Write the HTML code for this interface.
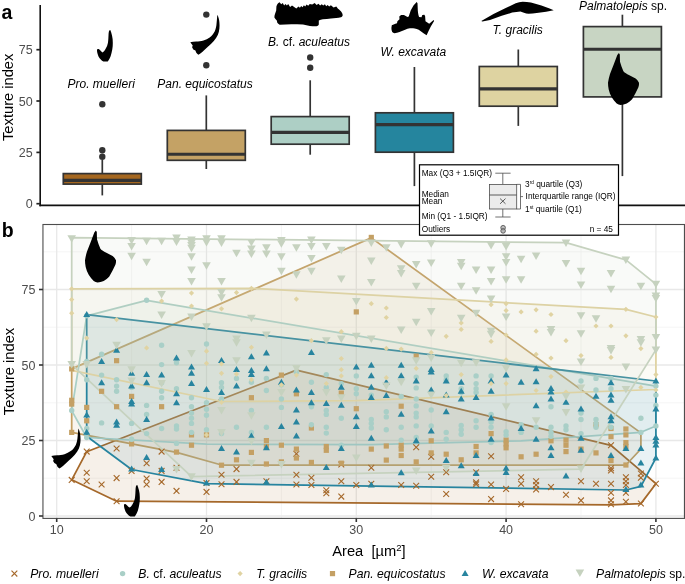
<!DOCTYPE html>
<html lang="en"><head><meta charset="utf-8"><title>Texture index figure</title>
<style>
html,body{margin:0;padding:0;background:#fff;}
body{width:685px;height:584px;overflow:hidden;}
svg{display:block;font-family:"Liberation Sans", Arial, Helvetica, sans-serif;}
.tick{font-size:12.5px;fill:#4d4d4d;}
.ttl{font-size:14.7px;fill:#000;}
.sp{font-size:12px;fill:#000;font-style:italic;}
.sl{font-size:12.2px;fill:#000;font-style:italic;}
.lg{font-size:8.3px;fill:#000;}
.pl{font-size:19.5px;font-weight:bold;fill:#000;}
</style></head><body>
<svg width="685" height="584" viewBox="0 0 685 584">
<rect width="685" height="584" fill="#fff"/>

<g id="panelA">
<line x1="102.3" y1="160.0" x2="102.3" y2="173.6" stroke="#333" stroke-width="1.7"/>
<line x1="102.3" y1="184.1" x2="102.3" y2="195.4" stroke="#333" stroke-width="1.7"/>
<rect x="63.3" y="173.6" width="78.0" height="10.5" fill="#a5671f" stroke="#333" stroke-width="1.7"/>
<line x1="63.3" y1="180.4" x2="141.3" y2="180.4" stroke="#333" stroke-width="3.1"/>
<circle cx="102.3" cy="156.7" r="3.2" fill="#333"/>
<circle cx="102.3" cy="150.2" r="3.2" fill="#333"/>
<circle cx="102.3" cy="104.3" r="3.2" fill="#333"/>
<line x1="206.3" y1="95.4" x2="206.3" y2="130.4" stroke="#333" stroke-width="1.7"/>
<line x1="206.3" y1="160.3" x2="206.3" y2="169.0" stroke="#333" stroke-width="1.7"/>
<rect x="167.3" y="130.4" width="78.0" height="29.9" fill="#c4a265" stroke="#333" stroke-width="1.7"/>
<line x1="167.3" y1="154.2" x2="245.3" y2="154.2" stroke="#333" stroke-width="3.1"/>
<circle cx="206.3" cy="14.6" r="3.2" fill="#333"/>
<circle cx="206.3" cy="65.3" r="3.2" fill="#333"/>
<line x1="310.2" y1="80.3" x2="310.2" y2="116.6" stroke="#333" stroke-width="1.7"/>
<line x1="310.2" y1="144.2" x2="310.2" y2="154.7" stroke="#333" stroke-width="1.7"/>
<rect x="271.2" y="116.6" width="78.0" height="27.6" fill="#adcfc5" stroke="#333" stroke-width="1.7"/>
<line x1="271.2" y1="132.4" x2="349.2" y2="132.4" stroke="#333" stroke-width="3.1"/>
<circle cx="310.2" cy="57.5" r="3.2" fill="#333"/>
<circle cx="310.2" cy="67.8" r="3.2" fill="#333"/>
<line x1="414.4" y1="67.0" x2="414.4" y2="112.8" stroke="#333" stroke-width="1.7"/>
<line x1="414.4" y1="152.2" x2="414.4" y2="186.1" stroke="#333" stroke-width="1.7"/>
<rect x="375.4" y="112.8" width="78.0" height="39.4" fill="#25859e" stroke="#333" stroke-width="1.7"/>
<line x1="375.4" y1="124.6" x2="453.4" y2="124.6" stroke="#333" stroke-width="3.1"/>
<line x1="518.3" y1="49.5" x2="518.3" y2="66.5" stroke="#333" stroke-width="1.7"/>
<line x1="518.3" y1="106.2" x2="518.3" y2="125.9" stroke="#333" stroke-width="1.7"/>
<rect x="479.3" y="66.5" width="78.0" height="39.7" fill="#ded3a1" stroke="#333" stroke-width="1.7"/>
<line x1="479.3" y1="88.9" x2="557.3" y2="88.9" stroke="#333" stroke-width="3.1"/>
<line x1="622.4" y1="14.7" x2="622.4" y2="26.6" stroke="#333" stroke-width="1.7"/>
<line x1="622.4" y1="96.9" x2="622.4" y2="176.1" stroke="#333" stroke-width="1.7"/>
<rect x="583.4" y="26.6" width="78.0" height="70.3" fill="#c8d5c3" stroke="#333" stroke-width="1.7"/>
<line x1="583.4" y1="49.2" x2="661.4" y2="49.2" stroke="#333" stroke-width="3.1"/>
<line x1="40.2" y1="5" x2="40.2" y2="206.2" stroke="#111" stroke-width="1.6"/>
<line x1="39.4" y1="205.4" x2="685" y2="205.4" stroke="#111" stroke-width="1.6"/>
<line x1="36.4" y1="203.7" x2="40" y2="203.7" stroke="#222" stroke-width="1.7"/>
<text class="tick" x="32.7" y="208.3" text-anchor="end">0</text>
<line x1="36.4" y1="152.4" x2="40" y2="152.4" stroke="#222" stroke-width="1.7"/>
<text class="tick" x="32.7" y="157.0" text-anchor="end">25</text>
<line x1="36.4" y1="101.0" x2="40" y2="101.0" stroke="#222" stroke-width="1.7"/>
<text class="tick" x="32.7" y="105.6" text-anchor="end">50</text>
<line x1="36.4" y1="49.7" x2="40" y2="49.7" stroke="#222" stroke-width="1.7"/>
<text class="tick" x="32.7" y="54.3" text-anchor="end">75</text>
<text class="ttl" transform="translate(12.6,97.3) rotate(-90)" text-anchor="middle">Texture index</text>
<text class="pl" x="1.5" y="18.9">a</text>
<text class="sp" x="101.2" y="87.9" text-anchor="middle"><tspan>Pro. muelleri</tspan></text>
<text class="sp" x="205" y="87.9" text-anchor="middle"><tspan>Pan. equicostatus</tspan></text>
<text class="sp" x="309" y="46" text-anchor="middle"><tspan>B.</tspan><tspan font-style="normal"> cf. </tspan><tspan>aculeatus</tspan></text>
<text class="sp" x="413.4" y="56.3" text-anchor="middle"><tspan>W. excavata</tspan></text>
<text class="sp" x="517.7" y="34.4" text-anchor="middle"><tspan>T. gracilis</tspan></text>
<text class="sp" x="623.0" y="10.2" text-anchor="middle"><tspan>Palmatolepis</tspan><tspan font-style="normal"> sp.</tspan></text>
<path d="M110.3,30 C111.5,33 113,38 112.8,43 C112.9,47 112,52 110.7,56 C109.8,58.5 108.7,60.5 107.7,61.5 L103.4,61.5 C101.5,60.5 100,59 98.5,56.5 C97.5,54 96.8,51 97,49.5 C97.5,48.7 98.2,48.8 98.7,49.1 C100,50 101.3,52 102.6,52.4 C103.8,51.8 104.8,50.5 105.5,49.1 C106.8,47 107.6,45 107.9,43.1 C108.4,40 108.4,37 108.5,35.4 C108.6,33 108.8,31.5 109.3,30.5 Z" fill="#000"/>
<path d="M217.4,14.8 C218.5,17 219.3,20 219.4,22.5 C219.6,24.5 219.6,26.5 219.4,28.6 C219.2,31 218.7,33 217.9,34.8 C216.8,37 215.5,39 213.8,41 C212,43 210,45 207.6,47.1 L202,52.3 C200.5,53.5 199.5,54.3 198.4,54.8 C197.5,54.3 196.8,53.6 196.3,52.8 L195.4,50.6 L193.3,49.4 L192.1,47.3 L192.7,45.6 L190.3,42.3 C192,42 194,41.7 196.3,41.5 C198.5,41.4 201,41.2 203.5,40.5 C205.8,39.8 207.8,38.8 209.7,37.4 C211.8,35.8 213.5,33.7 214.8,31.2 C215.9,28.8 216.4,26 216.6,23 C216.8,21 217,19 217.1,17.3 Z" fill="#000"/>
<path d="M279.6,2.2 L281.2,4.3 L282.8,3.0 L284.1,5.4 L285.5,4.1 L286.9,5.4 L288.2,4.1 L290.1,6.9 L292.0,5.6 L296.3,8.6 L298.5,6.5 L299.9,7.8 L301.2,5.9 L302.5,7.2 L303.9,5.2 L305.2,6.5 L306.6,4.5 L308.2,5.8 L309.8,4.1 L312.2,4.6 L314.7,3.0 L316.6,5.1 L318.5,3.8 L320.1,5.6 L321.7,4.3 L323.3,5.6 L324.9,4.3 L326.2,6.2 L327.6,4.9 L329.2,6.5 L330.9,5.2 L333.6,7.4 L336.3,6.4 L338,8.8 C339.5,10 340.8,11 341.6,12.3 C342.3,13.3 342.7,14.3 342.7,15.2 C342.5,16.3 341.8,17 341,17.3 C338,17.9 334.5,18.2 331,18.5 C328,18.8 325.5,19 322.9,19.3 C321.3,19.6 320,20 318.8,20.4 L318.8,24.5 C318.3,25.5 317.5,26 316.5,26.3 C314.5,26.4 312,26.2 310,25.9 C307.5,25.4 305.3,24.9 303,24.5 C299,24.3 295,24.3 291.4,24.3 C287.5,24.5 283.5,24.8 279.7,24.8 C278.6,24.3 277.8,23.6 277.3,22.8 L276.8,20.4 C275.8,19.5 274.9,18.5 274.4,17.5 C274.3,16.3 274.6,15 275,14 L276.2,10.5 L276.4,6.4 C276.9,4.8 277.8,3.2 279.6,2.2 Z" fill="#000"/>
<path d="M416.7,2 L417.5,3.2 L417.8,10.4 C418,13 418.5,15.3 419.1,16.9 L421.5,17.3 L422.3,14.9 L424.3,14.7 L425.1,16.1 L425.5,21.3 L429.2,23.7 L433.6,20.1 L434.1,21 L430.8,26.5 L428.8,30.5 L426.6,35.3 L423.5,33.3 C422,32 420.3,30.6 418.7,29.7 C417.4,29.1 416,28.7 414.7,28.5 C413,28.2 411.5,28.1 409.9,28.3 C408.2,28.6 406.7,29.1 405.1,29.7 L399.5,32.1 C397.8,32.7 396.2,33.2 394.6,33.3 C393.6,33.2 392.7,32.8 392.2,32.1 C391.6,30.8 391.4,29.4 391.4,28.1 L391.8,25.3 L395.4,23.7 L397,23.3 L397.4,21.3 L399.5,19.3 L399.3,16.5 L401.1,14.9 L403.9,14.9 L407.5,17 L408.7,16.5 L410.7,10.4 L413.5,5.6 Z" fill="#000"/>
<path d="M481.3,21 L493.5,14 L505.2,8.2 L515.7,3.3 C518,2.3 520.3,1.8 522.7,1.8 C525.5,1.8 528.2,2.1 530.9,2.6 C534.5,3.4 538,4.5 541.4,5.6 L549.6,8.4 L553.7,10.3 C551.3,10.9 548.7,11.3 546.1,11.7 L536.7,13.1 C534,13.5 531.3,13.8 528.6,13.8 C527,13.7 525.4,13.3 523.9,12.8 L520.4,11.4 C517.7,11.6 515,12 512.2,12.6 L501.7,15.8 L490,19.9 L482.4,21.6 Z" fill="#000"/>
<path d="M618.9,53 L619.8,54.5 C619.9,57 619.9,59.3 620,61.7 C620.9,65 622,68.2 623.4,71.2 C624.9,72.8 626.8,74 628.9,75 L635.6,78.4 C637.2,79.6 638.3,81.1 639,82.8 C639.2,84.3 638.9,85.8 638.4,87.3 L635.6,92.9 L632.3,99 C630.7,100.9 628.8,102.3 626.7,103.4 C624.7,104.3 622.6,104.9 620.6,105.1 C619.2,104.9 617.9,104.3 616.7,103.4 C614.8,101.6 613.1,99.6 611.7,97.3 C610.3,94.8 609.3,92.2 608.7,89.5 C608.2,87.3 608,85 608,82.8 C608.4,79.8 609.1,76.8 610,73.9 L613.9,63.9 L617.3,55 Z" fill="#000"/>
</g>
<g id="panelB">
<rect x="42.95" y="224.5" width="641.5" height="293.9" fill="#fff"/>
<line x1="131.6" y1="224.5" x2="131.6" y2="518.4" stroke="#f0f0f0" stroke-width="0.7"/>
<line x1="281.4" y1="224.5" x2="281.4" y2="518.4" stroke="#f0f0f0" stroke-width="0.7"/>
<line x1="431.2" y1="224.5" x2="431.2" y2="518.4" stroke="#f0f0f0" stroke-width="0.7"/>
<line x1="581.0" y1="224.5" x2="581.0" y2="518.4" stroke="#f0f0f0" stroke-width="0.7"/>
<line x1="42.95" y1="478.2" x2="684.5" y2="478.2" stroke="#f0f0f0" stroke-width="0.7"/>
<line x1="42.95" y1="402.8" x2="684.5" y2="402.8" stroke="#f0f0f0" stroke-width="0.7"/>
<line x1="42.95" y1="327.2" x2="684.5" y2="327.2" stroke="#f0f0f0" stroke-width="0.7"/>
<line x1="42.95" y1="251.8" x2="684.5" y2="251.8" stroke="#f0f0f0" stroke-width="0.7"/>
<line x1="56.7" y1="224.5" x2="56.7" y2="518.4" stroke="#e8e8e8" stroke-width="1.3"/>
<line x1="206.5" y1="224.5" x2="206.5" y2="518.4" stroke="#e8e8e8" stroke-width="1.3"/>
<line x1="356.3" y1="224.5" x2="356.3" y2="518.4" stroke="#e8e8e8" stroke-width="1.3"/>
<line x1="506.1" y1="224.5" x2="506.1" y2="518.4" stroke="#e8e8e8" stroke-width="1.3"/>
<line x1="655.9" y1="224.5" x2="655.9" y2="518.4" stroke="#e8e8e8" stroke-width="1.3"/>
<line x1="42.95" y1="516.0" x2="684.5" y2="516.0" stroke="#e8e8e8" stroke-width="1.3"/>
<line x1="42.95" y1="440.5" x2="684.5" y2="440.5" stroke="#e8e8e8" stroke-width="1.3"/>
<line x1="42.95" y1="365.0" x2="684.5" y2="365.0" stroke="#e8e8e8" stroke-width="1.3"/>
<line x1="42.95" y1="289.5" x2="684.5" y2="289.5" stroke="#e8e8e8" stroke-width="1.3"/>
<polygon points="71.7,479.8 86.7,451.7 296.4,370.1 611.0,445.3 655.9,483.7 640.9,503.6 611.0,504.8 116.6,501.2" fill="#a5682a" fill-opacity="0.1" stroke="#a5682a" stroke-width="1.75" stroke-linejoin="round"/>
<polygon points="71.7,368.9 371.3,237.9 640.9,432.9 640.9,449.0 625.9,465.0 221.5,465.0 176.5,452.3 71.7,432.3" fill="#c4a064" fill-opacity="0.1" stroke="#c4a064" stroke-width="1.75" stroke-linejoin="round"/>
<polygon points="86.7,315.8 146.6,300.4 655.9,386.1 655.9,426.0 640.9,432.3 521.1,440.8 371.3,444.7 206.5,444.1 86.7,437.5 71.7,410.6" fill="#a9cfc7" fill-opacity="0.1" stroke="#a9cfc7" stroke-width="1.75" stroke-linejoin="round"/>
<polygon points="86.7,314.6 655.9,381.0 655.9,458.0 640.9,486.4 625.9,490.0 356.3,485.8 206.5,483.7 131.6,469.5 86.7,436.3" fill="#27849f" fill-opacity="0.1" stroke="#27849f" stroke-width="1.75" stroke-linejoin="round"/>
<polygon points="71.7,288.9 251.4,288.3 625.9,309.4 655.9,317.0 655.9,389.5 356.3,400.6 221.5,401.5 71.7,370.4" fill="#e0d3a2" fill-opacity="0.1" stroke="#e0d3a2" stroke-width="1.75" stroke-linejoin="round"/>
<polygon points="71.7,237.6 566.0,242.7 625.9,259.9 655.9,284.1 655.9,349.9 581.0,469.2 191.5,476.7 71.7,364.7" fill="#c6d2bf" fill-opacity="0.1" stroke="#c6d2bf" stroke-width="1.75" stroke-linejoin="round"/>
<g id="ptsM">
<path d="M68.8,477.0L74.6,482.8M68.8,482.8L74.6,477.0" stroke="#a5682a" stroke-width="1.1" fill="none"/>
<path d="M83.8,448.7L89.6,454.5M83.8,454.5L89.6,448.7" stroke="#a5682a" stroke-width="1.1" fill="none"/>
<path d="M83.8,469.8L89.6,475.6M83.8,475.6L89.6,469.8" stroke="#a5682a" stroke-width="1.1" fill="none"/>
<path d="M83.8,478.3L89.6,484.1M83.8,484.1L89.6,478.3" stroke="#a5682a" stroke-width="1.1" fill="none"/>
<path d="M98.7,481.6L104.5,487.4M98.7,487.4L104.5,481.6" stroke="#a5682a" stroke-width="1.1" fill="none"/>
<path d="M113.7,445.6L119.5,451.4M113.7,451.4L119.5,445.6" stroke="#a5682a" stroke-width="1.1" fill="none"/>
<path d="M113.7,475.2L119.5,481.0M113.7,481.0L119.5,475.2" stroke="#a5682a" stroke-width="1.1" fill="none"/>
<path d="M113.7,498.3L119.5,504.1M113.7,504.1L119.5,498.3" stroke="#a5682a" stroke-width="1.1" fill="none"/>
<path d="M128.7,468.0L134.5,473.8M128.7,473.8L134.5,468.0" stroke="#a5682a" stroke-width="1.1" fill="none"/>
<path d="M143.7,460.3L149.5,466.1M143.7,466.1L149.5,460.3" stroke="#a5682a" stroke-width="1.1" fill="none"/>
<path d="M143.7,475.7L149.5,481.5M143.7,481.5L149.5,475.7" stroke="#a5682a" stroke-width="1.1" fill="none"/>
<path d="M143.7,481.6L149.5,487.4M143.7,487.4L149.5,481.6" stroke="#a5682a" stroke-width="1.1" fill="none"/>
<path d="M158.7,448.7L164.5,454.5M158.7,454.5L164.5,448.7" stroke="#a5682a" stroke-width="1.1" fill="none"/>
<path d="M158.7,468.0L164.5,473.8M158.7,473.8L164.5,468.0" stroke="#a5682a" stroke-width="1.1" fill="none"/>
<path d="M158.7,479.0L164.5,484.8M158.7,484.8L164.5,479.0" stroke="#a5682a" stroke-width="1.1" fill="none"/>
<path d="M173.6,464.9L179.4,470.7M173.6,470.7L179.4,464.9" stroke="#a5682a" stroke-width="1.1" fill="none"/>
<path d="M173.6,488.0L179.4,493.8M173.6,493.8L179.4,488.0" stroke="#a5682a" stroke-width="1.1" fill="none"/>
<path d="M203.6,480.1L209.4,485.9M203.6,485.9L209.4,480.1" stroke="#a5682a" stroke-width="1.1" fill="none"/>
<path d="M203.6,489.0L209.4,494.8M203.6,494.8L209.4,489.0" stroke="#a5682a" stroke-width="1.1" fill="none"/>
<path d="M218.6,471.8L224.4,477.6M218.6,477.6L224.4,471.8" stroke="#a5682a" stroke-width="1.1" fill="none"/>
<path d="M218.6,481.3L224.4,487.1M218.6,487.1L224.4,481.3" stroke="#a5682a" stroke-width="1.1" fill="none"/>
<path d="M233.6,466.2L239.4,472.0M233.6,472.0L239.4,466.2" stroke="#a5682a" stroke-width="1.1" fill="none"/>
<path d="M233.6,479.0L239.4,484.8M233.6,484.8L239.4,479.0" stroke="#a5682a" stroke-width="1.1" fill="none"/>
<path d="M263.5,478.3L269.3,484.1M263.5,484.1L269.3,478.3" stroke="#a5682a" stroke-width="1.1" fill="none"/>
<path d="M293.5,450.8L299.3,456.6M293.5,456.6L299.3,450.8" stroke="#a5682a" stroke-width="1.1" fill="none"/>
<path d="M293.5,471.8L299.3,477.6M293.5,477.6L299.3,471.8" stroke="#a5682a" stroke-width="1.1" fill="none"/>
<path d="M293.5,481.6L299.3,487.4M293.5,487.4L299.3,481.6" stroke="#a5682a" stroke-width="1.1" fill="none"/>
<path d="M308.5,474.9L314.3,480.7M308.5,480.7L314.3,474.9" stroke="#a5682a" stroke-width="1.1" fill="none"/>
<path d="M308.5,482.1L314.3,487.9M308.5,487.9L314.3,482.1" stroke="#a5682a" stroke-width="1.1" fill="none"/>
<path d="M323.4,487.3L329.2,493.1M323.4,493.1L329.2,487.3" stroke="#a5682a" stroke-width="1.1" fill="none"/>
<path d="M323.4,490.3L329.2,496.1M323.4,496.1L329.2,490.3" stroke="#a5682a" stroke-width="1.1" fill="none"/>
<path d="M338.4,478.3L344.2,484.1M338.4,484.1L344.2,478.3" stroke="#a5682a" stroke-width="1.1" fill="none"/>
<path d="M338.4,493.7L344.2,499.5M338.4,499.5L344.2,493.7" stroke="#a5682a" stroke-width="1.1" fill="none"/>
<path d="M338.4,461.6L344.2,467.4M338.4,467.4L344.2,461.6" stroke="#a5682a" stroke-width="1.1" fill="none"/>
<path d="M353.4,482.1L359.2,487.9M353.4,487.9L359.2,482.1" stroke="#a5682a" stroke-width="1.1" fill="none"/>
<path d="M368.4,464.9L374.2,470.7M368.4,470.7L374.2,464.9" stroke="#a5682a" stroke-width="1.1" fill="none"/>
<path d="M368.4,480.8L374.2,486.6M368.4,486.6L374.2,480.8" stroke="#a5682a" stroke-width="1.1" fill="none"/>
<path d="M398.3,482.1L404.1,487.9M398.3,487.9L404.1,482.1" stroke="#a5682a" stroke-width="1.1" fill="none"/>
<path d="M413.3,444.4L419.1,450.2M413.3,450.2L419.1,444.4" stroke="#a5682a" stroke-width="1.1" fill="none"/>
<path d="M413.3,482.9L419.1,488.7M413.3,488.7L419.1,482.9" stroke="#a5682a" stroke-width="1.1" fill="none"/>
<path d="M428.3,453.9L434.1,459.7M428.3,459.7L434.1,453.9" stroke="#a5682a" stroke-width="1.1" fill="none"/>
<path d="M428.3,473.9L434.1,479.7M428.3,479.7L434.1,473.9" stroke="#a5682a" stroke-width="1.1" fill="none"/>
<path d="M443.3,469.3L449.1,475.1M443.3,475.1L449.1,469.3" stroke="#a5682a" stroke-width="1.1" fill="none"/>
<path d="M443.3,491.1L449.1,496.9M443.3,496.9L449.1,491.1" stroke="#a5682a" stroke-width="1.1" fill="none"/>
<path d="M473.2,469.3L479.0,475.1M473.2,475.1L479.0,469.3" stroke="#a5682a" stroke-width="1.1" fill="none"/>
<path d="M473.2,479.5L479.0,485.3M473.2,485.3L479.0,479.5" stroke="#a5682a" stroke-width="1.1" fill="none"/>
<path d="M473.2,481.3L479.0,487.1M473.2,487.1L479.0,481.3" stroke="#a5682a" stroke-width="1.1" fill="none"/>
<path d="M488.2,453.3L494.0,459.1M488.2,459.1L494.0,453.3" stroke="#a5682a" stroke-width="1.1" fill="none"/>
<path d="M488.2,481.6L494.0,487.4M488.2,487.4L494.0,481.6" stroke="#a5682a" stroke-width="1.1" fill="none"/>
<path d="M488.2,496.2L494.0,502.0M488.2,502.0L494.0,496.2" stroke="#a5682a" stroke-width="1.1" fill="none"/>
<path d="M503.2,486.0L509.0,491.8M503.2,491.8L509.0,486.0" stroke="#a5682a" stroke-width="1.1" fill="none"/>
<path d="M518.2,501.4L524.0,507.2M518.2,507.2L524.0,501.4" stroke="#a5682a" stroke-width="1.1" fill="none"/>
<path d="M518.2,480.8L524.0,486.6M518.2,486.6L524.0,480.8" stroke="#a5682a" stroke-width="1.1" fill="none"/>
<path d="M518.2,474.4L524.0,480.2M518.2,480.2L524.0,474.4" stroke="#a5682a" stroke-width="1.1" fill="none"/>
<path d="M533.2,478.3L539.0,484.1M533.2,484.1L539.0,478.3" stroke="#a5682a" stroke-width="1.1" fill="none"/>
<path d="M533.2,482.1L539.0,487.9M533.2,487.9L539.0,482.1" stroke="#a5682a" stroke-width="1.1" fill="none"/>
<path d="M533.2,486.5L539.0,492.3M533.2,492.3L539.0,486.5" stroke="#a5682a" stroke-width="1.1" fill="none"/>
<path d="M548.1,484.2L553.9,490.0M548.1,490.0L553.9,484.2" stroke="#a5682a" stroke-width="1.1" fill="none"/>
<path d="M563.1,491.9L568.9,497.7M563.1,497.7L568.9,491.9" stroke="#a5682a" stroke-width="1.1" fill="none"/>
<path d="M578.1,478.3L583.9,484.1M578.1,484.1L583.9,478.3" stroke="#a5682a" stroke-width="1.1" fill="none"/>
<path d="M578.1,497.5L583.9,503.3M578.1,503.3L583.9,497.5" stroke="#a5682a" stroke-width="1.1" fill="none"/>
<path d="M593.1,480.8L598.9,486.6M593.1,486.6L598.9,480.8" stroke="#a5682a" stroke-width="1.1" fill="none"/>
<path d="M608.1,442.3L613.9,448.1M608.1,448.1L613.9,442.3" stroke="#a5682a" stroke-width="1.1" fill="none"/>
<path d="M608.1,465.4L613.9,471.2M608.1,471.2L613.9,465.4" stroke="#a5682a" stroke-width="1.1" fill="none"/>
<path d="M608.1,467.5L613.9,473.3M608.1,473.3L613.9,467.5" stroke="#a5682a" stroke-width="1.1" fill="none"/>
<path d="M608.1,480.8L613.9,486.6M608.1,486.6L613.9,480.8" stroke="#a5682a" stroke-width="1.1" fill="none"/>
<path d="M608.1,489.8L613.9,495.6M608.1,495.6L613.9,489.8" stroke="#a5682a" stroke-width="1.1" fill="none"/>
<path d="M608.1,497.5L613.9,503.3M608.1,503.3L613.9,497.5" stroke="#a5682a" stroke-width="1.1" fill="none"/>
<path d="M608.1,501.4L613.9,507.2M608.1,507.2L613.9,501.4" stroke="#a5682a" stroke-width="1.1" fill="none"/>
<path d="M623.0,474.4L628.8,480.2M623.0,480.2L628.8,474.4" stroke="#a5682a" stroke-width="1.1" fill="none"/>
<path d="M623.0,478.3L628.8,484.1M623.0,484.1L628.8,478.3" stroke="#a5682a" stroke-width="1.1" fill="none"/>
<path d="M623.0,482.1L628.8,487.9M623.0,487.9L628.8,482.1" stroke="#a5682a" stroke-width="1.1" fill="none"/>
<path d="M623.0,489.8L628.8,495.6M623.0,495.6L628.8,489.8" stroke="#a5682a" stroke-width="1.1" fill="none"/>
<path d="M623.0,498.8L628.8,504.6M623.0,504.6L628.8,498.8" stroke="#a5682a" stroke-width="1.1" fill="none"/>
<path d="M638.0,470.6L643.8,476.4M638.0,476.4L643.8,470.6" stroke="#a5682a" stroke-width="1.1" fill="none"/>
<path d="M638.0,474.9L643.8,480.7M638.0,480.7L643.8,474.9" stroke="#a5682a" stroke-width="1.1" fill="none"/>
<path d="M638.0,500.6L643.8,506.4M638.0,506.4L643.8,500.6" stroke="#a5682a" stroke-width="1.1" fill="none"/>
<path d="M653.0,480.8L658.8,486.6M653.0,486.6L658.8,480.8" stroke="#a5682a" stroke-width="1.1" fill="none"/>
</g>
<g id="ptsE">
<rect x="114.0" y="358.1" width="5.2" height="5.2" fill="#c4a064"/>
<rect x="69.1" y="366.3" width="5.2" height="5.2" fill="#c4a064"/>
<rect x="353.7" y="309.3" width="5.2" height="5.2" fill="#c4a064"/>
<rect x="368.7" y="234.8" width="5.2" height="5.2" fill="#c4a064"/>
<rect x="413.6" y="353.5" width="5.2" height="5.2" fill="#c4a064"/>
<rect x="69.1" y="397.7" width="5.2" height="5.2" fill="#c4a064"/>
<rect x="69.1" y="401.5" width="5.2" height="5.2" fill="#c4a064"/>
<rect x="69.1" y="429.8" width="5.2" height="5.2" fill="#c4a064"/>
<rect x="84.1" y="404.8" width="5.2" height="5.2" fill="#c4a064"/>
<rect x="84.1" y="418.2" width="5.2" height="5.2" fill="#c4a064"/>
<rect x="99.0" y="388.7" width="5.2" height="5.2" fill="#c4a064"/>
<rect x="114.0" y="404.1" width="5.2" height="5.2" fill="#c4a064"/>
<rect x="129.0" y="393.8" width="5.2" height="5.2" fill="#c4a064"/>
<rect x="129.0" y="441.3" width="5.2" height="5.2" fill="#c4a064"/>
<rect x="159.0" y="404.1" width="5.2" height="5.2" fill="#c4a064"/>
<rect x="173.9" y="449.5" width="5.2" height="5.2" fill="#c4a064"/>
<rect x="188.9" y="432.3" width="5.2" height="5.2" fill="#c4a064"/>
<rect x="188.9" y="442.6" width="5.2" height="5.2" fill="#c4a064"/>
<rect x="203.9" y="432.3" width="5.2" height="5.2" fill="#c4a064"/>
<rect x="218.9" y="462.6" width="5.2" height="5.2" fill="#c4a064"/>
<rect x="233.9" y="457.2" width="5.2" height="5.2" fill="#c4a064"/>
<rect x="248.8" y="395.1" width="5.2" height="5.2" fill="#c4a064"/>
<rect x="248.8" y="449.8" width="5.2" height="5.2" fill="#c4a064"/>
<rect x="263.8" y="438.0" width="5.2" height="5.2" fill="#c4a064"/>
<rect x="263.8" y="443.9" width="5.2" height="5.2" fill="#c4a064"/>
<rect x="263.8" y="461.4" width="5.2" height="5.2" fill="#c4a064"/>
<rect x="278.8" y="372.5" width="5.2" height="5.2" fill="#c4a064"/>
<rect x="278.8" y="442.6" width="5.2" height="5.2" fill="#c4a064"/>
<rect x="278.8" y="459.3" width="5.2" height="5.2" fill="#c4a064"/>
<rect x="293.8" y="391.2" width="5.2" height="5.2" fill="#c4a064"/>
<rect x="293.8" y="446.5" width="5.2" height="5.2" fill="#c4a064"/>
<rect x="293.8" y="455.4" width="5.2" height="5.2" fill="#c4a064"/>
<rect x="308.8" y="425.4" width="5.2" height="5.2" fill="#c4a064"/>
<rect x="308.8" y="459.8" width="5.2" height="5.2" fill="#c4a064"/>
<rect x="323.7" y="443.9" width="5.2" height="5.2" fill="#c4a064"/>
<rect x="323.7" y="447.7" width="5.2" height="5.2" fill="#c4a064"/>
<rect x="338.7" y="390.5" width="5.2" height="5.2" fill="#c4a064"/>
<rect x="338.7" y="460.6" width="5.2" height="5.2" fill="#c4a064"/>
<rect x="353.7" y="406.1" width="5.2" height="5.2" fill="#c4a064"/>
<rect x="368.7" y="446.5" width="5.2" height="5.2" fill="#c4a064"/>
<rect x="383.7" y="443.4" width="5.2" height="5.2" fill="#c4a064"/>
<rect x="383.7" y="457.5" width="5.2" height="5.2" fill="#c4a064"/>
<rect x="398.6" y="403.6" width="5.2" height="5.2" fill="#c4a064"/>
<rect x="398.6" y="442.6" width="5.2" height="5.2" fill="#c4a064"/>
<rect x="398.6" y="446.5" width="5.2" height="5.2" fill="#c4a064"/>
<rect x="398.6" y="452.9" width="5.2" height="5.2" fill="#c4a064"/>
<rect x="413.6" y="459.3" width="5.2" height="5.2" fill="#c4a064"/>
<rect x="428.6" y="438.2" width="5.2" height="5.2" fill="#c4a064"/>
<rect x="428.6" y="450.3" width="5.2" height="5.2" fill="#c4a064"/>
<rect x="443.6" y="451.6" width="5.2" height="5.2" fill="#c4a064"/>
<rect x="458.6" y="457.2" width="5.2" height="5.2" fill="#c4a064"/>
<rect x="473.5" y="443.9" width="5.2" height="5.2" fill="#c4a064"/>
<rect x="473.5" y="450.3" width="5.2" height="5.2" fill="#c4a064"/>
<rect x="488.5" y="431.0" width="5.2" height="5.2" fill="#c4a064"/>
<rect x="503.5" y="437.5" width="5.2" height="5.2" fill="#c4a064"/>
<rect x="503.5" y="441.3" width="5.2" height="5.2" fill="#c4a064"/>
<rect x="503.5" y="445.2" width="5.2" height="5.2" fill="#c4a064"/>
<rect x="518.5" y="454.2" width="5.2" height="5.2" fill="#c4a064"/>
<rect x="533.5" y="451.6" width="5.2" height="5.2" fill="#c4a064"/>
<rect x="548.4" y="438.2" width="5.2" height="5.2" fill="#c4a064"/>
<rect x="563.4" y="437.5" width="5.2" height="5.2" fill="#c4a064"/>
<rect x="563.4" y="442.6" width="5.2" height="5.2" fill="#c4a064"/>
<rect x="563.4" y="449.0" width="5.2" height="5.2" fill="#c4a064"/>
<rect x="578.4" y="446.5" width="5.2" height="5.2" fill="#c4a064"/>
<rect x="593.4" y="450.3" width="5.2" height="5.2" fill="#c4a064"/>
<rect x="593.4" y="422.1" width="5.2" height="5.2" fill="#c4a064"/>
<rect x="608.4" y="425.9" width="5.2" height="5.2" fill="#c4a064"/>
<rect x="608.4" y="434.1" width="5.2" height="5.2" fill="#c4a064"/>
<rect x="608.4" y="458.0" width="5.2" height="5.2" fill="#c4a064"/>
<rect x="623.3" y="426.4" width="5.2" height="5.2" fill="#c4a064"/>
<rect x="623.3" y="432.3" width="5.2" height="5.2" fill="#c4a064"/>
<rect x="623.3" y="440.0" width="5.2" height="5.2" fill="#c4a064"/>
<rect x="623.3" y="443.9" width="5.2" height="5.2" fill="#c4a064"/>
<rect x="623.3" y="462.4" width="5.2" height="5.2" fill="#c4a064"/>
</g>
<g id="ptsB">
<circle cx="146.6" cy="300.3" r="2.7" fill="#a9cfc7"/>
<circle cx="86.7" cy="315.8" r="2.7" fill="#a9cfc7"/>
<circle cx="161.6" cy="345.3" r="2.7" fill="#a9cfc7"/>
<circle cx="101.6" cy="354.3" r="2.7" fill="#a9cfc7"/>
<circle cx="86.7" cy="361.5" r="2.7" fill="#a9cfc7"/>
<circle cx="161.6" cy="364.6" r="2.7" fill="#a9cfc7"/>
<circle cx="176.5" cy="362.8" r="2.7" fill="#a9cfc7"/>
<circle cx="206.5" cy="344.0" r="2.7" fill="#a9cfc7"/>
<circle cx="71.7" cy="410.5" r="2.7" fill="#a9cfc7"/>
<circle cx="86.7" cy="379.7" r="2.7" fill="#a9cfc7"/>
<circle cx="86.7" cy="428.5" r="2.7" fill="#a9cfc7"/>
<circle cx="86.7" cy="437.5" r="2.7" fill="#a9cfc7"/>
<circle cx="101.6" cy="375.1" r="2.7" fill="#a9cfc7"/>
<circle cx="101.6" cy="422.9" r="2.7" fill="#a9cfc7"/>
<circle cx="116.6" cy="379.7" r="2.7" fill="#a9cfc7"/>
<circle cx="116.6" cy="386.1" r="2.7" fill="#a9cfc7"/>
<circle cx="116.6" cy="391.3" r="2.7" fill="#a9cfc7"/>
<circle cx="131.6" cy="387.4" r="2.7" fill="#a9cfc7"/>
<circle cx="131.6" cy="423.4" r="2.7" fill="#a9cfc7"/>
<circle cx="131.6" cy="439.3" r="2.7" fill="#a9cfc7"/>
<circle cx="146.6" cy="405.4" r="2.7" fill="#a9cfc7"/>
<circle cx="146.6" cy="414.4" r="2.7" fill="#a9cfc7"/>
<circle cx="146.6" cy="433.6" r="2.7" fill="#a9cfc7"/>
<circle cx="161.6" cy="391.3" r="2.7" fill="#a9cfc7"/>
<circle cx="161.6" cy="397.7" r="2.7" fill="#a9cfc7"/>
<circle cx="161.6" cy="428.5" r="2.7" fill="#a9cfc7"/>
<circle cx="176.5" cy="388.7" r="2.7" fill="#a9cfc7"/>
<circle cx="176.5" cy="425.9" r="2.7" fill="#a9cfc7"/>
<circle cx="176.5" cy="429.0" r="2.7" fill="#a9cfc7"/>
<circle cx="176.5" cy="443.4" r="2.7" fill="#a9cfc7"/>
<circle cx="191.5" cy="397.7" r="2.7" fill="#a9cfc7"/>
<circle cx="191.5" cy="406.7" r="2.7" fill="#a9cfc7"/>
<circle cx="191.5" cy="413.1" r="2.7" fill="#a9cfc7"/>
<circle cx="191.5" cy="418.2" r="2.7" fill="#a9cfc7"/>
<circle cx="191.5" cy="423.4" r="2.7" fill="#a9cfc7"/>
<circle cx="191.5" cy="432.4" r="2.7" fill="#a9cfc7"/>
<circle cx="161.6" cy="382.8" r="2.7" fill="#a9cfc7"/>
<circle cx="206.5" cy="402.8" r="2.7" fill="#a9cfc7"/>
<circle cx="206.5" cy="409.2" r="2.7" fill="#a9cfc7"/>
<circle cx="206.5" cy="415.2" r="2.7" fill="#a9cfc7"/>
<circle cx="206.5" cy="429.8" r="2.7" fill="#a9cfc7"/>
<circle cx="221.5" cy="382.8" r="2.7" fill="#a9cfc7"/>
<circle cx="221.5" cy="387.4" r="2.7" fill="#a9cfc7"/>
<circle cx="221.5" cy="399.0" r="2.7" fill="#a9cfc7"/>
<circle cx="221.5" cy="433.6" r="2.7" fill="#a9cfc7"/>
<circle cx="236.5" cy="378.4" r="2.7" fill="#a9cfc7"/>
<circle cx="236.5" cy="427.2" r="2.7" fill="#a9cfc7"/>
<circle cx="251.4" cy="382.3" r="2.7" fill="#a9cfc7"/>
<circle cx="251.4" cy="410.5" r="2.7" fill="#a9cfc7"/>
<circle cx="251.4" cy="432.4" r="2.7" fill="#a9cfc7"/>
<circle cx="266.4" cy="378.4" r="2.7" fill="#a9cfc7"/>
<circle cx="266.4" cy="390.5" r="2.7" fill="#a9cfc7"/>
<circle cx="266.4" cy="427.2" r="2.7" fill="#a9cfc7"/>
<circle cx="281.4" cy="384.8" r="2.7" fill="#a9cfc7"/>
<circle cx="281.4" cy="399.0" r="2.7" fill="#a9cfc7"/>
<circle cx="281.4" cy="407.4" r="2.7" fill="#a9cfc7"/>
<circle cx="296.4" cy="372.0" r="2.7" fill="#a9cfc7"/>
<circle cx="311.4" cy="382.3" r="2.7" fill="#a9cfc7"/>
<circle cx="311.4" cy="406.7" r="2.7" fill="#a9cfc7"/>
<circle cx="311.4" cy="424.7" r="2.7" fill="#a9cfc7"/>
<circle cx="326.3" cy="374.6" r="2.7" fill="#a9cfc7"/>
<circle cx="326.3" cy="387.4" r="2.7" fill="#a9cfc7"/>
<circle cx="326.3" cy="410.5" r="2.7" fill="#a9cfc7"/>
<circle cx="326.3" cy="414.4" r="2.7" fill="#a9cfc7"/>
<circle cx="326.3" cy="427.2" r="2.7" fill="#a9cfc7"/>
<circle cx="326.3" cy="433.1" r="2.7" fill="#a9cfc7"/>
<circle cx="341.3" cy="383.6" r="2.7" fill="#a9cfc7"/>
<circle cx="341.3" cy="418.2" r="2.7" fill="#a9cfc7"/>
<circle cx="341.3" cy="445.2" r="2.7" fill="#a9cfc7"/>
<circle cx="356.3" cy="375.9" r="2.7" fill="#a9cfc7"/>
<circle cx="356.3" cy="388.7" r="2.7" fill="#a9cfc7"/>
<circle cx="356.3" cy="393.8" r="2.7" fill="#a9cfc7"/>
<circle cx="371.3" cy="395.1" r="2.7" fill="#a9cfc7"/>
<circle cx="371.3" cy="419.5" r="2.7" fill="#a9cfc7"/>
<circle cx="371.3" cy="423.4" r="2.7" fill="#a9cfc7"/>
<circle cx="371.3" cy="428.0" r="2.7" fill="#a9cfc7"/>
<circle cx="386.3" cy="411.8" r="2.7" fill="#a9cfc7"/>
<circle cx="386.3" cy="416.9" r="2.7" fill="#a9cfc7"/>
<circle cx="386.3" cy="429.8" r="2.7" fill="#a9cfc7"/>
<circle cx="401.2" cy="396.4" r="2.7" fill="#a9cfc7"/>
<circle cx="401.2" cy="427.2" r="2.7" fill="#a9cfc7"/>
<circle cx="401.2" cy="440.1" r="2.7" fill="#a9cfc7"/>
<circle cx="416.2" cy="377.1" r="2.7" fill="#a9cfc7"/>
<circle cx="416.2" cy="387.9" r="2.7" fill="#a9cfc7"/>
<circle cx="416.2" cy="399.0" r="2.7" fill="#a9cfc7"/>
<circle cx="416.2" cy="405.9" r="2.7" fill="#a9cfc7"/>
<circle cx="416.2" cy="413.1" r="2.7" fill="#a9cfc7"/>
<circle cx="416.2" cy="416.9" r="2.7" fill="#a9cfc7"/>
<circle cx="416.2" cy="425.9" r="2.7" fill="#a9cfc7"/>
<circle cx="416.2" cy="437.5" r="2.7" fill="#a9cfc7"/>
<circle cx="431.2" cy="410.0" r="2.7" fill="#a9cfc7"/>
<circle cx="431.2" cy="425.9" r="2.7" fill="#a9cfc7"/>
<circle cx="446.2" cy="375.9" r="2.7" fill="#a9cfc7"/>
<circle cx="446.2" cy="379.7" r="2.7" fill="#a9cfc7"/>
<circle cx="446.2" cy="432.4" r="2.7" fill="#a9cfc7"/>
<circle cx="446.2" cy="439.3" r="2.7" fill="#a9cfc7"/>
<circle cx="461.2" cy="388.7" r="2.7" fill="#a9cfc7"/>
<circle cx="461.2" cy="392.5" r="2.7" fill="#a9cfc7"/>
<circle cx="461.2" cy="425.4" r="2.7" fill="#a9cfc7"/>
<circle cx="461.2" cy="429.8" r="2.7" fill="#a9cfc7"/>
<circle cx="461.2" cy="434.2" r="2.7" fill="#a9cfc7"/>
<circle cx="476.1" cy="375.9" r="2.7" fill="#a9cfc7"/>
<circle cx="476.1" cy="383.6" r="2.7" fill="#a9cfc7"/>
<circle cx="476.1" cy="388.7" r="2.7" fill="#a9cfc7"/>
<circle cx="476.1" cy="392.5" r="2.7" fill="#a9cfc7"/>
<circle cx="476.1" cy="420.8" r="2.7" fill="#a9cfc7"/>
<circle cx="476.1" cy="427.2" r="2.7" fill="#a9cfc7"/>
<circle cx="491.1" cy="375.9" r="2.7" fill="#a9cfc7"/>
<circle cx="491.1" cy="414.4" r="2.7" fill="#a9cfc7"/>
<circle cx="491.1" cy="422.1" r="2.7" fill="#a9cfc7"/>
<circle cx="491.1" cy="427.2" r="2.7" fill="#a9cfc7"/>
<circle cx="491.1" cy="442.6" r="2.7" fill="#a9cfc7"/>
<circle cx="506.1" cy="431.6" r="2.7" fill="#a9cfc7"/>
<circle cx="506.1" cy="434.9" r="2.7" fill="#a9cfc7"/>
<circle cx="521.1" cy="424.7" r="2.7" fill="#a9cfc7"/>
<circle cx="521.1" cy="432.4" r="2.7" fill="#a9cfc7"/>
<circle cx="536.1" cy="427.2" r="2.7" fill="#a9cfc7"/>
<circle cx="551.0" cy="406.7" r="2.7" fill="#a9cfc7"/>
<circle cx="551.0" cy="427.2" r="2.7" fill="#a9cfc7"/>
<circle cx="551.0" cy="432.4" r="2.7" fill="#a9cfc7"/>
<circle cx="551.0" cy="436.2" r="2.7" fill="#a9cfc7"/>
<circle cx="566.0" cy="425.9" r="2.7" fill="#a9cfc7"/>
<circle cx="566.0" cy="429.8" r="2.7" fill="#a9cfc7"/>
<circle cx="581.0" cy="381.0" r="2.7" fill="#a9cfc7"/>
<circle cx="581.0" cy="413.1" r="2.7" fill="#a9cfc7"/>
<circle cx="581.0" cy="419.5" r="2.7" fill="#a9cfc7"/>
<circle cx="581.0" cy="433.6" r="2.7" fill="#a9cfc7"/>
<circle cx="596.0" cy="378.4" r="2.7" fill="#a9cfc7"/>
<circle cx="596.0" cy="390.0" r="2.7" fill="#a9cfc7"/>
<circle cx="596.0" cy="419.5" r="2.7" fill="#a9cfc7"/>
<circle cx="596.0" cy="423.4" r="2.7" fill="#a9cfc7"/>
<circle cx="596.0" cy="427.2" r="2.7" fill="#a9cfc7"/>
<circle cx="611.0" cy="378.4" r="2.7" fill="#a9cfc7"/>
<circle cx="611.0" cy="388.7" r="2.7" fill="#a9cfc7"/>
<circle cx="611.0" cy="427.2" r="2.7" fill="#a9cfc7"/>
<circle cx="640.9" cy="418.2" r="2.7" fill="#a9cfc7"/>
<circle cx="640.9" cy="432.4" r="2.7" fill="#a9cfc7"/>
<circle cx="655.9" cy="386.1" r="2.7" fill="#a9cfc7"/>
<circle cx="655.9" cy="395.1" r="2.7" fill="#a9cfc7"/>
<circle cx="655.9" cy="405.4" r="2.7" fill="#a9cfc7"/>
<circle cx="655.9" cy="425.9" r="2.7" fill="#a9cfc7"/>
</g>
<g id="ptsW">
<path d="M86.7,310.9L90.2,316.9L83.2,316.9Z" fill="#27849f"/>
<path d="M116.6,346.8L120.1,352.8L113.1,352.8Z" fill="#27849f"/>
<path d="M101.6,357.9L105.1,363.9L98.1,363.9Z" fill="#27849f"/>
<path d="M176.5,354.5L180.0,360.5L173.0,360.5Z" fill="#27849f"/>
<path d="M191.5,363.5L195.0,369.5L188.0,369.5Z" fill="#27849f"/>
<path d="M221.5,357.1L225.0,363.1L218.0,363.1Z" fill="#27849f"/>
<path d="M251.4,353.2L254.9,359.2L247.9,359.2Z" fill="#27849f"/>
<path d="M266.4,349.4L269.9,355.4L262.9,355.4Z" fill="#27849f"/>
<path d="M311.4,348.9L314.9,354.9L307.9,354.9Z" fill="#27849f"/>
<path d="M236.5,366.1L240.0,372.1L233.0,372.1Z" fill="#27849f"/>
<path d="M251.4,366.9L254.9,372.9L247.9,372.9Z" fill="#27849f"/>
<path d="M266.4,365.3L269.9,371.3L262.9,371.3Z" fill="#27849f"/>
<path d="M356.3,363.5L359.8,369.5L352.8,369.5Z" fill="#27849f"/>
<path d="M371.3,361.7L374.8,367.7L367.8,367.7Z" fill="#27849f"/>
<path d="M401.2,361.7L404.7,367.7L397.7,367.7Z" fill="#27849f"/>
<path d="M431.2,366.1L434.7,372.1L427.7,372.1Z" fill="#27849f"/>
<path d="M536.1,365.3L539.6,371.3L532.6,371.3Z" fill="#27849f"/>
<path d="M86.7,411.6L90.2,417.6L83.2,417.6Z" fill="#27849f"/>
<path d="M86.7,428.8L90.2,434.8L83.2,434.8Z" fill="#27849f"/>
<path d="M101.6,379.2L105.1,385.2L98.1,385.2Z" fill="#27849f"/>
<path d="M116.6,418.5L120.1,424.5L113.1,424.5Z" fill="#27849f"/>
<path d="M116.6,421.8L120.1,427.8L113.1,427.8Z" fill="#27849f"/>
<path d="M131.6,369.7L135.1,375.7L128.1,375.7Z" fill="#27849f"/>
<path d="M131.6,382.5L135.1,388.5L128.1,388.5Z" fill="#27849f"/>
<path d="M131.6,397.9L135.1,403.9L128.1,403.9Z" fill="#27849f"/>
<path d="M131.6,400.5L135.1,406.5L128.1,406.5Z" fill="#27849f"/>
<path d="M131.6,465.5L135.1,471.5L128.1,471.5Z" fill="#27849f"/>
<path d="M146.6,371.0L150.1,377.0L143.1,377.0Z" fill="#27849f"/>
<path d="M146.6,379.2L150.1,385.2L143.1,385.2Z" fill="#27849f"/>
<path d="M146.6,415.9L150.1,421.9L143.1,421.9Z" fill="#27849f"/>
<path d="M146.6,453.9L150.1,459.9L143.1,459.9Z" fill="#27849f"/>
<path d="M161.6,371.5L165.1,377.5L158.1,377.5Z" fill="#27849f"/>
<path d="M161.6,466.0L165.1,472.0L158.1,472.0Z" fill="#27849f"/>
<path d="M176.5,390.2L180.0,396.2L173.0,396.2Z" fill="#27849f"/>
<path d="M176.5,399.2L180.0,405.2L173.0,405.2Z" fill="#27849f"/>
<path d="M191.5,369.7L195.0,375.7L188.0,375.7Z" fill="#27849f"/>
<path d="M191.5,380.0L195.0,386.0L188.0,386.0Z" fill="#27849f"/>
<path d="M206.5,385.9L210.0,391.9L203.0,391.9Z" fill="#27849f"/>
<path d="M221.5,388.9L225.0,394.9L218.0,394.9Z" fill="#27849f"/>
<path d="M221.5,444.9L225.0,450.9L218.0,450.9Z" fill="#27849f"/>
<path d="M236.5,382.5L240.0,388.5L233.0,388.5Z" fill="#27849f"/>
<path d="M236.5,448.5L240.0,454.5L233.0,454.5Z" fill="#27849f"/>
<path d="M251.4,371.0L254.9,377.0L247.9,377.0Z" fill="#27849f"/>
<path d="M251.4,432.6L254.9,438.6L247.9,438.6Z" fill="#27849f"/>
<path d="M266.4,444.2L269.9,450.2L262.9,450.2Z" fill="#27849f"/>
<path d="M266.4,478.8L269.9,484.8L262.9,484.8Z" fill="#27849f"/>
<path d="M281.4,378.7L284.9,384.7L277.9,384.7Z" fill="#27849f"/>
<path d="M281.4,423.1L284.9,429.1L277.9,429.1Z" fill="#27849f"/>
<path d="M296.4,386.4L299.9,392.4L292.9,392.4Z" fill="#27849f"/>
<path d="M296.4,406.4L299.9,412.4L292.9,412.4Z" fill="#27849f"/>
<path d="M296.4,418.5L299.9,424.5L292.9,424.5Z" fill="#27849f"/>
<path d="M296.4,432.6L299.9,438.6L292.9,438.6Z" fill="#27849f"/>
<path d="M311.4,388.9L314.9,394.9L307.9,394.9Z" fill="#27849f"/>
<path d="M311.4,399.2L314.9,405.2L307.9,405.2Z" fill="#27849f"/>
<path d="M326.3,400.0L329.8,406.0L322.8,406.0Z" fill="#27849f"/>
<path d="M326.3,463.9L329.8,469.9L322.8,469.9Z" fill="#27849f"/>
<path d="M341.3,383.8L344.8,389.8L337.8,389.8Z" fill="#27849f"/>
<path d="M341.3,401.8L344.8,407.8L337.8,407.8Z" fill="#27849f"/>
<path d="M341.3,444.9L344.8,450.9L337.8,450.9Z" fill="#27849f"/>
<path d="M356.3,413.3L359.8,419.3L352.8,419.3Z" fill="#27849f"/>
<path d="M356.3,423.1L359.8,429.1L352.8,429.1Z" fill="#27849f"/>
<path d="M206.5,479.4L210.0,485.4L203.0,485.4Z" fill="#27849f"/>
<path d="M371.3,372.3L374.8,378.3L367.8,378.3Z" fill="#27849f"/>
<path d="M371.3,383.8L374.8,389.8L367.8,389.8Z" fill="#27849f"/>
<path d="M371.3,394.1L374.8,400.1L367.8,400.1Z" fill="#27849f"/>
<path d="M371.3,434.7L374.8,440.7L367.8,440.7Z" fill="#27849f"/>
<path d="M371.3,481.4L374.8,487.4L367.8,487.4Z" fill="#27849f"/>
<path d="M386.3,378.7L389.8,384.7L382.8,384.7Z" fill="#27849f"/>
<path d="M386.3,392.0L389.8,398.0L382.8,398.0Z" fill="#27849f"/>
<path d="M401.2,372.3L404.7,378.3L397.7,378.3Z" fill="#27849f"/>
<path d="M401.2,410.8L404.7,416.8L397.7,416.8Z" fill="#27849f"/>
<path d="M401.2,469.3L404.7,475.3L397.7,475.3Z" fill="#27849f"/>
<path d="M416.2,377.4L419.7,383.4L412.7,383.4Z" fill="#27849f"/>
<path d="M416.2,437.2L419.7,443.2L412.7,443.2Z" fill="#27849f"/>
<path d="M431.2,368.4L434.7,374.4L427.7,374.4Z" fill="#27849f"/>
<path d="M431.2,386.4L434.7,392.4L427.7,392.4Z" fill="#27849f"/>
<path d="M431.2,427.5L434.7,433.5L427.7,433.5Z" fill="#27849f"/>
<path d="M446.2,377.4L449.7,383.4L442.7,383.4Z" fill="#27849f"/>
<path d="M446.2,391.5L449.7,397.5L442.7,397.5Z" fill="#27849f"/>
<path d="M446.2,408.2L449.7,414.2L442.7,414.2Z" fill="#27849f"/>
<path d="M446.2,457.0L449.7,463.0L442.7,463.0Z" fill="#27849f"/>
<path d="M461.2,378.7L464.7,384.7L457.7,384.7Z" fill="#27849f"/>
<path d="M461.2,387.7L464.7,393.7L457.7,393.7Z" fill="#27849f"/>
<path d="M461.2,395.4L464.7,401.4L457.7,401.4Z" fill="#27849f"/>
<path d="M461.2,462.2L464.7,468.2L457.7,468.2Z" fill="#27849f"/>
<path d="M476.1,394.1L479.6,400.1L472.6,400.1Z" fill="#27849f"/>
<path d="M476.1,451.9L479.6,457.9L472.6,457.9Z" fill="#27849f"/>
<path d="M476.1,469.9L479.6,475.9L472.6,475.9Z" fill="#27849f"/>
<path d="M491.1,377.4L494.6,383.4L487.6,383.4Z" fill="#27849f"/>
<path d="M491.1,387.7L494.6,393.7L487.6,393.7Z" fill="#27849f"/>
<path d="M491.1,414.6L494.6,420.6L487.6,420.6Z" fill="#27849f"/>
<path d="M491.1,435.7L494.6,441.7L487.6,441.7Z" fill="#27849f"/>
<path d="M506.1,371.5L509.6,377.5L502.6,377.5Z" fill="#27849f"/>
<path d="M506.1,464.7L509.6,470.7L502.6,470.7Z" fill="#27849f"/>
<path d="M506.1,469.1L509.6,475.1L502.6,475.1Z" fill="#27849f"/>
<path d="M521.1,378.7L524.6,384.7L517.6,384.7Z" fill="#27849f"/>
<path d="M521.1,424.9L524.6,430.9L517.6,430.9Z" fill="#27849f"/>
<path d="M536.1,378.2L539.6,384.2L532.6,384.2Z" fill="#27849f"/>
<path d="M536.1,402.3L539.6,408.3L532.6,408.3Z" fill="#27849f"/>
<path d="M536.1,435.7L539.6,441.7L532.6,441.7Z" fill="#27849f"/>
<path d="M551.0,385.1L554.5,391.1L547.5,391.1Z" fill="#27849f"/>
<path d="M551.0,388.4L554.5,394.4L547.5,394.4Z" fill="#27849f"/>
<path d="M551.0,395.4L554.5,401.4L547.5,401.4Z" fill="#27849f"/>
<path d="M551.0,444.2L554.5,450.2L547.5,450.2Z" fill="#27849f"/>
<path d="M551.0,451.9L554.5,457.9L547.5,457.9Z" fill="#27849f"/>
<path d="M566.0,398.7L569.5,404.7L562.5,404.7Z" fill="#27849f"/>
<path d="M566.0,472.4L569.5,478.4L562.5,478.4Z" fill="#27849f"/>
<path d="M581.0,405.6L584.5,411.6L577.5,411.6Z" fill="#27849f"/>
<path d="M581.0,434.7L584.5,440.7L577.5,440.7Z" fill="#27849f"/>
<path d="M581.0,446.7L584.5,452.7L577.5,452.7Z" fill="#27849f"/>
<path d="M596.0,392.8L599.5,398.8L592.5,398.8Z" fill="#27849f"/>
<path d="M611.0,379.2L614.5,385.2L607.5,385.2Z" fill="#27849f"/>
<path d="M611.0,391.5L614.5,397.5L607.5,397.5Z" fill="#27849f"/>
<path d="M611.0,396.7L614.5,402.7L607.5,402.7Z" fill="#27849f"/>
<path d="M611.0,413.3L614.5,419.3L607.5,419.3Z" fill="#27849f"/>
<path d="M611.0,417.2L614.5,423.2L607.5,423.2Z" fill="#27849f"/>
<path d="M611.0,451.9L614.5,457.9L607.5,457.9Z" fill="#27849f"/>
<path d="M625.9,444.9L629.4,450.9L622.4,450.9Z" fill="#27849f"/>
<path d="M625.9,486.0L629.4,492.0L622.4,492.0Z" fill="#27849f"/>
<path d="M640.9,444.9L644.4,450.9L637.4,450.9Z" fill="#27849f"/>
<path d="M640.9,459.6L644.4,465.6L637.4,465.6Z" fill="#27849f"/>
<path d="M640.9,481.4L644.4,487.4L637.4,487.4Z" fill="#27849f"/>
<path d="M655.9,377.4L659.4,383.4L652.4,383.4Z" fill="#27849f"/>
<path d="M655.9,405.6L659.4,411.6L652.4,411.6Z" fill="#27849f"/>
<path d="M655.9,433.9L659.4,439.9L652.4,439.9Z" fill="#27849f"/>
<path d="M655.9,437.7L659.4,443.7L652.4,443.7Z" fill="#27849f"/>
<path d="M655.9,441.6L659.4,447.6L652.4,447.6Z" fill="#27849f"/>
<path d="M655.9,454.4L659.4,460.4L652.4,460.4Z" fill="#27849f"/>
</g>
<g id="ptsT">
<path d="M71.7,286.2L74.3,288.8L71.7,291.4L69.1,288.8Z" fill="#e0d3a2"/>
<path d="M71.7,297.0L74.3,299.6L71.7,302.2L69.1,299.6Z" fill="#e0d3a2"/>
<path d="M71.7,310.6L74.3,313.2L71.7,315.8L69.1,313.2Z" fill="#e0d3a2"/>
<path d="M191.5,290.5L194.1,293.1L191.5,295.7L188.9,293.1Z" fill="#e0d3a2"/>
<path d="M161.6,298.5L164.2,301.1L161.6,303.7L159.0,301.1Z" fill="#e0d3a2"/>
<path d="M191.5,303.4L194.1,306.0L191.5,308.6L188.9,306.0Z" fill="#e0d3a2"/>
<path d="M116.6,317.0L119.2,319.6L116.6,322.2L114.0,319.6Z" fill="#e0d3a2"/>
<path d="M86.7,335.5L89.3,338.1L86.7,340.7L84.1,338.1Z" fill="#e0d3a2"/>
<path d="M146.6,345.3L149.2,347.9L146.6,350.5L144.0,347.9Z" fill="#e0d3a2"/>
<path d="M236.5,290.0L239.1,292.6L236.5,295.2L233.9,292.6Z" fill="#e0d3a2"/>
<path d="M251.4,285.7L254.0,288.3L251.4,290.9L248.8,288.3Z" fill="#e0d3a2"/>
<path d="M221.5,306.2L224.1,308.8L221.5,311.4L218.9,308.8Z" fill="#e0d3a2"/>
<path d="M296.4,296.5L299.0,299.1L296.4,301.7L293.8,299.1Z" fill="#e0d3a2"/>
<path d="M341.3,329.1L343.9,331.7L341.3,334.3L338.7,331.7Z" fill="#e0d3a2"/>
<path d="M311.4,338.1L314.0,340.7L311.4,343.3L308.8,340.7Z" fill="#e0d3a2"/>
<path d="M251.4,344.7L254.0,347.3L251.4,349.9L248.8,347.3Z" fill="#e0d3a2"/>
<path d="M206.5,348.6L209.1,351.2L206.5,353.8L203.9,351.2Z" fill="#e0d3a2"/>
<path d="M206.5,360.7L209.1,363.3L206.5,365.9L203.9,363.3Z" fill="#e0d3a2"/>
<path d="M221.5,361.2L224.1,363.8L221.5,366.4L218.9,363.8Z" fill="#e0d3a2"/>
<path d="M341.3,356.0L343.9,358.6L341.3,361.2L338.7,358.6Z" fill="#e0d3a2"/>
<path d="M341.3,367.1L343.9,369.7L341.3,372.3L338.7,369.7Z" fill="#e0d3a2"/>
<path d="M371.3,301.1L373.9,303.7L371.3,306.3L368.7,303.7Z" fill="#e0d3a2"/>
<path d="M386.3,305.4L388.9,308.0L386.3,310.6L383.7,308.0Z" fill="#e0d3a2"/>
<path d="M386.3,314.9L388.9,317.5L386.3,320.1L383.7,317.5Z" fill="#e0d3a2"/>
<path d="M446.2,333.7L448.8,336.3L446.2,338.9L443.6,336.3Z" fill="#e0d3a2"/>
<path d="M461.2,320.3L463.8,322.9L461.2,325.5L458.6,322.9Z" fill="#e0d3a2"/>
<path d="M461.2,326.8L463.8,329.4L461.2,332.0L458.6,329.4Z" fill="#e0d3a2"/>
<path d="M491.1,302.1L493.7,304.7L491.1,307.3L488.5,304.7Z" fill="#e0d3a2"/>
<path d="M491.1,338.8L493.7,341.4L491.1,344.0L488.5,341.4Z" fill="#e0d3a2"/>
<path d="M506.1,301.1L508.7,303.7L506.1,306.3L503.5,303.7Z" fill="#e0d3a2"/>
<path d="M506.1,308.0L508.7,310.6L506.1,313.2L503.5,310.6Z" fill="#e0d3a2"/>
<path d="M506.1,332.4L508.7,335.0L506.1,337.6L503.5,335.0Z" fill="#e0d3a2"/>
<path d="M521.1,309.3L523.7,311.9L521.1,314.5L518.5,311.9Z" fill="#e0d3a2"/>
<path d="M386.3,345.8L388.9,348.4L386.3,351.0L383.7,348.4Z" fill="#e0d3a2"/>
<path d="M401.2,346.5L403.8,349.1L401.2,351.7L398.6,349.1Z" fill="#e0d3a2"/>
<path d="M431.2,349.9L433.8,352.5L431.2,355.1L428.6,352.5Z" fill="#e0d3a2"/>
<path d="M506.1,357.3L508.7,359.9L506.1,362.5L503.5,359.9Z" fill="#e0d3a2"/>
<path d="M416.2,365.8L418.8,368.4L416.2,371.0L413.6,368.4Z" fill="#e0d3a2"/>
<path d="M536.1,307.2L538.7,309.8L536.1,312.4L533.5,309.8Z" fill="#e0d3a2"/>
<path d="M551.0,311.9L553.6,314.5L551.0,317.1L548.4,314.5Z" fill="#e0d3a2"/>
<path d="M625.9,306.7L628.5,309.3L625.9,311.9L623.3,309.3Z" fill="#e0d3a2"/>
<path d="M655.9,314.4L658.5,317.0L655.9,319.6L653.3,317.0Z" fill="#e0d3a2"/>
<path d="M596.0,323.4L598.6,326.0L596.0,328.6L593.4,326.0Z" fill="#e0d3a2"/>
<path d="M611.0,323.4L613.6,326.0L611.0,328.6L608.4,326.0Z" fill="#e0d3a2"/>
<path d="M536.1,328.6L538.7,331.2L536.1,333.8L533.5,331.2Z" fill="#e0d3a2"/>
<path d="M625.9,333.2L628.5,335.8L625.9,338.4L623.3,335.8Z" fill="#e0d3a2"/>
<path d="M566.0,338.1L568.6,340.7L566.0,343.3L563.4,340.7Z" fill="#e0d3a2"/>
<path d="M640.9,346.0L643.5,348.6L640.9,351.2L638.3,348.6Z" fill="#e0d3a2"/>
<path d="M536.1,351.7L538.7,354.3L536.1,356.9L533.5,354.3Z" fill="#e0d3a2"/>
<path d="M581.0,353.0L583.6,355.6L581.0,358.2L578.4,355.6Z" fill="#e0d3a2"/>
<path d="M611.0,354.8L613.6,357.4L611.0,360.0L608.4,357.4Z" fill="#e0d3a2"/>
<path d="M551.0,355.5L553.6,358.1L551.0,360.7L548.4,358.1Z" fill="#e0d3a2"/>
<path d="M221.5,370.7L224.1,373.3L221.5,375.9L218.9,373.3Z" fill="#e0d3a2"/>
<path d="M236.5,371.5L239.1,374.1L236.5,376.7L233.9,374.1Z" fill="#e0d3a2"/>
<path d="M251.4,377.1L254.0,379.7L251.4,382.3L248.8,379.7Z" fill="#e0d3a2"/>
<path d="M221.5,399.7L224.1,402.3L221.5,404.9L218.9,402.3Z" fill="#e0d3a2"/>
<path d="M281.4,382.2L284.0,384.8L281.4,387.4L278.8,384.8Z" fill="#e0d3a2"/>
<path d="M296.4,372.5L299.0,375.1L296.4,377.7L293.8,375.1Z" fill="#e0d3a2"/>
<path d="M326.3,381.0L328.9,383.6L326.3,386.2L323.7,383.6Z" fill="#e0d3a2"/>
<path d="M341.3,373.3L343.9,375.9L341.3,378.5L338.7,375.9Z" fill="#e0d3a2"/>
<path d="M206.5,432.3L209.1,434.9L206.5,437.5L203.9,434.9Z" fill="#e0d3a2"/>
<path d="M386.3,375.1L388.9,377.7L386.3,380.3L383.7,377.7Z" fill="#e0d3a2"/>
<path d="M461.2,372.0L463.8,374.6L461.2,377.2L458.6,374.6Z" fill="#e0d3a2"/>
<path d="M491.1,381.0L493.7,383.6L491.1,386.2L488.5,383.6Z" fill="#e0d3a2"/>
<path d="M506.1,381.0L508.7,383.6L506.1,386.2L503.5,383.6Z" fill="#e0d3a2"/>
<path d="M446.2,393.0L448.8,395.6L446.2,398.2L443.6,395.6Z" fill="#e0d3a2"/>
<path d="M551.0,374.0L553.6,376.6L551.0,379.2L548.4,376.6Z" fill="#e0d3a2"/>
<path d="M566.0,389.4L568.6,392.0L566.0,394.6L563.4,392.0Z" fill="#e0d3a2"/>
<path d="M640.9,384.8L643.5,387.4L640.9,390.0L638.3,387.4Z" fill="#e0d3a2"/>
<path d="M655.9,372.0L658.5,374.6L655.9,377.2L653.3,374.6Z" fill="#e0d3a2"/>
<path d="M655.9,387.4L658.5,390.0L655.9,392.6L653.3,390.0Z" fill="#e0d3a2"/>
<path d="M536.1,387.9L538.7,390.5L536.1,393.1L533.5,390.5Z" fill="#e0d3a2"/>
</g>
<g id="ptsP">
<path d="M71.7,242.7L76.0,235.2L67.4,235.2Z" fill="#c6d2bf"/>
<path d="M131.6,244.5L135.9,237.0L127.3,237.0Z" fill="#c6d2bf"/>
<path d="M131.6,250.4L135.9,242.9L127.3,242.9Z" fill="#c6d2bf"/>
<path d="M131.6,260.2L135.9,252.7L127.3,252.7Z" fill="#c6d2bf"/>
<path d="M146.6,245.3L150.9,237.8L142.3,237.8Z" fill="#c6d2bf"/>
<path d="M146.6,266.3L150.9,258.8L142.3,258.8Z" fill="#c6d2bf"/>
<path d="M161.6,245.3L165.9,237.8L157.3,237.8Z" fill="#c6d2bf"/>
<path d="M176.5,241.9L180.8,234.4L172.2,234.4Z" fill="#c6d2bf"/>
<path d="M176.5,246.0L180.8,238.5L172.2,238.5Z" fill="#c6d2bf"/>
<path d="M191.5,244.0L195.8,236.5L187.2,236.5Z" fill="#c6d2bf"/>
<path d="M191.5,247.1L195.8,239.6L187.2,239.6Z" fill="#c6d2bf"/>
<path d="M191.5,249.6L195.8,242.1L187.2,242.1Z" fill="#c6d2bf"/>
<path d="M191.5,252.2L195.8,244.7L187.2,244.7Z" fill="#c6d2bf"/>
<path d="M191.5,260.7L195.8,253.2L187.2,253.2Z" fill="#c6d2bf"/>
<path d="M191.5,274.0L195.8,266.5L187.2,266.5Z" fill="#c6d2bf"/>
<path d="M191.5,285.6L195.8,278.1L187.2,278.1Z" fill="#c6d2bf"/>
<path d="M161.6,298.4L165.9,290.9L157.3,290.9Z" fill="#c6d2bf"/>
<path d="M161.6,319.0L165.9,311.5L157.3,311.5Z" fill="#c6d2bf"/>
<path d="M191.5,321.0L195.8,313.5L187.2,313.5Z" fill="#c6d2bf"/>
<path d="M116.6,349.3L120.9,341.8L112.3,341.8Z" fill="#c6d2bf"/>
<path d="M191.5,357.5L195.8,350.0L187.2,350.0Z" fill="#c6d2bf"/>
<path d="M71.7,368.6L76.0,361.1L67.4,361.1Z" fill="#c6d2bf"/>
<path d="M86.7,368.6L91.0,361.1L82.4,361.1Z" fill="#c6d2bf"/>
<path d="M131.6,373.7L135.9,366.2L127.3,366.2Z" fill="#c6d2bf"/>
<path d="M206.5,242.7L210.8,235.2L202.2,235.2Z" fill="#c6d2bf"/>
<path d="M206.5,246.5L210.8,239.0L202.2,239.0Z" fill="#c6d2bf"/>
<path d="M206.5,269.7L210.8,262.2L202.2,262.2Z" fill="#c6d2bf"/>
<path d="M221.5,242.7L225.8,235.2L217.2,235.2Z" fill="#c6d2bf"/>
<path d="M221.5,247.1L225.8,239.6L217.2,239.6Z" fill="#c6d2bf"/>
<path d="M221.5,285.6L225.8,278.1L217.2,278.1Z" fill="#c6d2bf"/>
<path d="M221.5,296.6L225.8,289.1L217.2,289.1Z" fill="#c6d2bf"/>
<path d="M221.5,301.8L225.8,294.3L217.2,294.3Z" fill="#c6d2bf"/>
<path d="M236.5,257.3L240.8,249.8L232.2,249.8Z" fill="#c6d2bf"/>
<path d="M236.5,342.9L240.8,335.4L232.2,335.4Z" fill="#c6d2bf"/>
<path d="M236.5,346.7L240.8,339.2L232.2,339.2Z" fill="#c6d2bf"/>
<path d="M236.5,364.7L240.8,357.2L232.2,357.2Z" fill="#c6d2bf"/>
<path d="M251.4,246.5L255.7,239.0L247.1,239.0Z" fill="#c6d2bf"/>
<path d="M251.4,253.0L255.7,245.5L247.1,245.5Z" fill="#c6d2bf"/>
<path d="M251.4,258.1L255.7,250.6L247.1,250.6Z" fill="#c6d2bf"/>
<path d="M251.4,322.3L255.7,314.8L247.1,314.8Z" fill="#c6d2bf"/>
<path d="M266.4,251.7L270.7,244.2L262.1,244.2Z" fill="#c6d2bf"/>
<path d="M266.4,258.1L270.7,250.6L262.1,250.6Z" fill="#c6d2bf"/>
<path d="M266.4,339.0L270.7,331.5L262.1,331.5Z" fill="#c6d2bf"/>
<path d="M281.4,244.5L285.7,237.0L277.1,237.0Z" fill="#c6d2bf"/>
<path d="M281.4,247.8L285.7,240.3L277.1,240.3Z" fill="#c6d2bf"/>
<path d="M281.4,260.7L285.7,253.2L277.1,253.2Z" fill="#c6d2bf"/>
<path d="M281.4,275.3L285.7,267.8L277.1,267.8Z" fill="#c6d2bf"/>
<path d="M296.4,251.7L300.7,244.2L292.1,244.2Z" fill="#c6d2bf"/>
<path d="M296.4,278.7L300.7,271.2L292.1,271.2Z" fill="#c6d2bf"/>
<path d="M311.4,244.0L315.7,236.5L307.1,236.5Z" fill="#c6d2bf"/>
<path d="M311.4,250.4L315.7,242.9L307.1,242.9Z" fill="#c6d2bf"/>
<path d="M311.4,262.5L315.7,255.0L307.1,255.0Z" fill="#c6d2bf"/>
<path d="M311.4,275.3L315.7,267.8L307.1,267.8Z" fill="#c6d2bf"/>
<path d="M326.3,250.4L330.6,242.9L322.0,242.9Z" fill="#c6d2bf"/>
<path d="M326.3,344.7L330.6,337.2L322.0,337.2Z" fill="#c6d2bf"/>
<path d="M341.3,254.3L345.6,246.8L337.0,246.8Z" fill="#c6d2bf"/>
<path d="M341.3,283.0L345.6,275.5L337.0,275.5Z" fill="#c6d2bf"/>
<path d="M341.3,342.9L345.6,335.4L337.0,335.4Z" fill="#c6d2bf"/>
<path d="M356.3,305.6L360.6,298.1L352.0,298.1Z" fill="#c6d2bf"/>
<path d="M356.3,340.3L360.6,332.8L352.0,332.8Z" fill="#c6d2bf"/>
<path d="M206.5,330.8L210.8,323.3L202.2,323.3Z" fill="#c6d2bf"/>
<path d="M296.4,372.4L300.7,364.9L292.1,364.9Z" fill="#c6d2bf"/>
<path d="M371.3,247.1L375.6,239.6L367.0,239.6Z" fill="#c6d2bf"/>
<path d="M371.3,265.0L375.6,257.5L367.0,257.5Z" fill="#c6d2bf"/>
<path d="M371.3,286.4L375.6,278.9L367.0,278.9Z" fill="#c6d2bf"/>
<path d="M371.3,342.9L375.6,335.4L367.0,335.4Z" fill="#c6d2bf"/>
<path d="M386.3,251.7L390.6,244.2L382.0,244.2Z" fill="#c6d2bf"/>
<path d="M401.2,248.6L405.5,241.1L396.9,241.1Z" fill="#c6d2bf"/>
<path d="M401.2,272.7L405.5,265.2L396.9,265.2Z" fill="#c6d2bf"/>
<path d="M401.2,277.4L405.5,269.9L396.9,269.9Z" fill="#c6d2bf"/>
<path d="M401.2,333.9L405.5,326.4L396.9,326.4Z" fill="#c6d2bf"/>
<path d="M416.2,268.4L420.5,260.9L411.9,260.9Z" fill="#c6d2bf"/>
<path d="M416.2,290.2L420.5,282.7L411.9,282.7Z" fill="#c6d2bf"/>
<path d="M416.2,326.2L420.5,318.7L411.9,318.7Z" fill="#c6d2bf"/>
<path d="M416.2,364.7L420.5,357.2L411.9,357.2Z" fill="#c6d2bf"/>
<path d="M431.2,247.8L435.5,240.3L426.9,240.3Z" fill="#c6d2bf"/>
<path d="M431.2,267.1L435.5,259.6L426.9,259.6Z" fill="#c6d2bf"/>
<path d="M431.2,315.4L435.5,307.9L426.9,307.9Z" fill="#c6d2bf"/>
<path d="M431.2,337.0L435.5,329.5L426.9,329.5Z" fill="#c6d2bf"/>
<path d="M431.2,362.1L435.5,354.6L426.9,354.6Z" fill="#c6d2bf"/>
<path d="M461.2,266.6L465.5,259.1L456.9,259.1Z" fill="#c6d2bf"/>
<path d="M461.2,270.2L465.5,262.7L456.9,262.7Z" fill="#c6d2bf"/>
<path d="M461.2,290.2L465.5,282.7L456.9,282.7Z" fill="#c6d2bf"/>
<path d="M461.2,322.3L465.5,314.8L456.9,314.8Z" fill="#c6d2bf"/>
<path d="M461.2,367.3L465.5,359.8L456.9,359.8Z" fill="#c6d2bf"/>
<path d="M476.1,274.0L480.4,266.5L471.8,266.5Z" fill="#c6d2bf"/>
<path d="M476.1,294.8L480.4,287.3L471.8,287.3Z" fill="#c6d2bf"/>
<path d="M476.1,317.2L480.4,309.7L471.8,309.7Z" fill="#c6d2bf"/>
<path d="M476.1,366.8L480.4,359.3L471.8,359.3Z" fill="#c6d2bf"/>
<path d="M491.1,249.6L495.4,242.1L486.8,242.1Z" fill="#c6d2bf"/>
<path d="M491.1,274.0L495.4,266.5L486.8,266.5Z" fill="#c6d2bf"/>
<path d="M491.1,285.6L495.4,278.1L486.8,278.1Z" fill="#c6d2bf"/>
<path d="M491.1,303.1L495.4,295.6L486.8,295.6Z" fill="#c6d2bf"/>
<path d="M491.1,335.2L495.4,327.7L486.8,327.7Z" fill="#c6d2bf"/>
<path d="M491.1,338.2L495.4,330.7L486.8,330.7Z" fill="#c6d2bf"/>
<path d="M506.1,250.4L510.4,242.9L501.8,242.9Z" fill="#c6d2bf"/>
<path d="M506.1,260.7L510.4,253.2L501.8,253.2Z" fill="#c6d2bf"/>
<path d="M506.1,266.6L510.4,259.1L501.8,259.1Z" fill="#c6d2bf"/>
<path d="M506.1,283.8L510.4,276.3L501.8,276.3Z" fill="#c6d2bf"/>
<path d="M506.1,321.0L510.4,313.5L501.8,313.5Z" fill="#c6d2bf"/>
<path d="M521.1,263.2L525.4,255.7L516.8,255.7Z" fill="#c6d2bf"/>
<path d="M521.1,283.8L525.4,276.3L516.8,276.3Z" fill="#c6d2bf"/>
<path d="M506.1,372.4L510.4,364.9L501.8,364.9Z" fill="#c6d2bf"/>
<path d="M536.1,259.9L540.4,252.4L531.8,252.4Z" fill="#c6d2bf"/>
<path d="M566.0,247.1L570.3,239.6L561.7,239.6Z" fill="#c6d2bf"/>
<path d="M566.0,267.6L570.3,260.1L561.7,260.1Z" fill="#c6d2bf"/>
<path d="M581.0,275.3L585.3,267.8L576.7,267.8Z" fill="#c6d2bf"/>
<path d="M581.0,288.9L585.3,281.4L576.7,281.4Z" fill="#c6d2bf"/>
<path d="M611.0,277.4L615.3,269.9L606.7,269.9Z" fill="#c6d2bf"/>
<path d="M611.0,293.3L615.3,285.8L606.7,285.8Z" fill="#c6d2bf"/>
<path d="M625.9,264.0L630.2,256.5L621.6,256.5Z" fill="#c6d2bf"/>
<path d="M640.9,290.2L645.2,282.7L636.6,282.7Z" fill="#c6d2bf"/>
<path d="M655.9,288.2L660.2,280.7L651.6,280.7Z" fill="#c6d2bf"/>
<path d="M655.9,300.0L660.2,292.5L651.6,292.5Z" fill="#c6d2bf"/>
<path d="M655.9,302.5L660.2,295.0L651.6,295.0Z" fill="#c6d2bf"/>
<path d="M581.0,319.8L585.3,312.3L576.7,312.3Z" fill="#c6d2bf"/>
<path d="M596.0,322.8L600.3,315.3L591.7,315.3Z" fill="#c6d2bf"/>
<path d="M551.0,333.4L555.3,325.9L546.7,325.9Z" fill="#c6d2bf"/>
<path d="M551.0,336.4L555.3,328.9L546.7,328.9Z" fill="#c6d2bf"/>
<path d="M581.0,337.7L585.3,330.2L576.7,330.2Z" fill="#c6d2bf"/>
<path d="M640.9,343.6L645.2,336.1L636.6,336.1Z" fill="#c6d2bf"/>
<path d="M640.9,346.7L645.2,339.2L636.6,339.2Z" fill="#c6d2bf"/>
<path d="M655.9,341.6L660.2,334.1L651.6,334.1Z" fill="#c6d2bf"/>
<path d="M655.9,353.9L660.2,346.4L651.6,346.4Z" fill="#c6d2bf"/>
<path d="M611.0,352.4L615.3,344.9L606.7,344.9Z" fill="#c6d2bf"/>
<path d="M611.0,354.4L615.3,346.9L606.7,346.9Z" fill="#c6d2bf"/>
<path d="M581.0,366.0L585.3,358.5L576.7,358.5Z" fill="#c6d2bf"/>
<path d="M625.9,371.1L630.2,363.6L621.6,363.6Z" fill="#c6d2bf"/>
<path d="M131.6,385.0L135.9,377.5L127.3,377.5Z" fill="#c6d2bf"/>
<path d="M161.6,387.6L165.9,380.1L157.3,380.1Z" fill="#c6d2bf"/>
<path d="M176.5,473.6L180.8,466.1L172.2,466.1Z" fill="#c6d2bf"/>
<path d="M191.5,480.8L195.8,473.3L187.2,473.3Z" fill="#c6d2bf"/>
<path d="M221.5,414.5L225.8,407.0L217.2,407.0Z" fill="#c6d2bf"/>
<path d="M221.5,436.4L225.8,428.9L217.2,428.9Z" fill="#c6d2bf"/>
<path d="M251.4,419.7L255.7,412.2L247.1,412.2Z" fill="#c6d2bf"/>
<path d="M251.4,445.3L255.7,437.8L247.1,437.8Z" fill="#c6d2bf"/>
<path d="M251.4,467.2L255.7,459.7L247.1,459.7Z" fill="#c6d2bf"/>
<path d="M281.4,396.5L285.7,389.0L277.1,389.0Z" fill="#c6d2bf"/>
<path d="M281.4,468.5L285.7,461.0L277.1,461.0Z" fill="#c6d2bf"/>
<path d="M326.3,396.5L330.6,389.0L322.0,389.0Z" fill="#c6d2bf"/>
<path d="M341.3,401.7L345.6,394.2L337.0,394.2Z" fill="#c6d2bf"/>
<path d="M356.3,462.0L360.6,454.5L352.0,454.5Z" fill="#c6d2bf"/>
<path d="M401.2,386.3L405.5,378.8L396.9,378.8Z" fill="#c6d2bf"/>
<path d="M386.3,390.1L390.6,382.6L382.0,382.6Z" fill="#c6d2bf"/>
<path d="M431.2,399.1L435.5,391.6L426.9,391.6Z" fill="#c6d2bf"/>
<path d="M416.2,474.9L420.5,467.4L411.9,467.4Z" fill="#c6d2bf"/>
<path d="M446.2,472.3L450.5,464.8L441.9,464.8Z" fill="#c6d2bf"/>
<path d="M506.1,410.7L510.4,403.2L501.8,403.2Z" fill="#c6d2bf"/>
<path d="M536.1,424.8L540.4,417.3L531.8,417.3Z" fill="#c6d2bf"/>
<path d="M566.0,400.4L570.3,392.9L561.7,392.9Z" fill="#c6d2bf"/>
<path d="M566.0,416.6L570.3,409.1L561.7,409.1Z" fill="#c6d2bf"/>
<path d="M581.0,391.9L585.3,384.4L576.7,384.4Z" fill="#c6d2bf"/>
<path d="M581.0,473.1L585.3,465.6L576.7,465.6Z" fill="#c6d2bf"/>
<path d="M625.9,393.5L630.2,386.0L621.6,386.0Z" fill="#c6d2bf"/>
</g>
<rect x="42.95" y="224.5" width="641.5" height="293.9" fill="none" stroke="#4d4d4d" stroke-width="1.1"/>
<line x1="39" y1="516.0" x2="42.95" y2="516.0" stroke="#333" stroke-width="1.6"/>
<text class="tick" x="35.5" y="520.6" text-anchor="end">0</text>
<line x1="39" y1="440.5" x2="42.95" y2="440.5" stroke="#333" stroke-width="1.6"/>
<text class="tick" x="35.5" y="445.1" text-anchor="end">25</text>
<line x1="39" y1="365.0" x2="42.95" y2="365.0" stroke="#333" stroke-width="1.6"/>
<text class="tick" x="35.5" y="369.6" text-anchor="end">50</text>
<line x1="39" y1="289.5" x2="42.95" y2="289.5" stroke="#333" stroke-width="1.6"/>
<text class="tick" x="35.5" y="294.1" text-anchor="end">75</text>
<line x1="56.7" y1="518.4" x2="56.7" y2="522" stroke="#333" stroke-width="1.6"/>
<text class="tick" x="56.7" y="534.2" text-anchor="middle">10</text>
<line x1="206.5" y1="518.4" x2="206.5" y2="522" stroke="#333" stroke-width="1.6"/>
<text class="tick" x="206.5" y="534.2" text-anchor="middle">20</text>
<line x1="356.3" y1="518.4" x2="356.3" y2="522" stroke="#333" stroke-width="1.6"/>
<text class="tick" x="356.3" y="534.2" text-anchor="middle">30</text>
<line x1="506.1" y1="518.4" x2="506.1" y2="522" stroke="#333" stroke-width="1.6"/>
<text class="tick" x="506.1" y="534.2" text-anchor="middle">40</text>
<line x1="655.9" y1="518.4" x2="655.9" y2="522" stroke="#333" stroke-width="1.6"/>
<text class="tick" x="655.9" y="534.2" text-anchor="middle">50</text>
<text class="ttl" transform="translate(14.4,371.5) rotate(-90)" text-anchor="middle">Texture index</text>
<text class="ttl" x="368.9" y="555.9" text-anchor="middle" xml:space="preserve">Area  [µm<tspan font-size="9.5" dy="-5">2</tspan><tspan dy="5">]</tspan></text>
<text class="pl" x="1.8" y="237.1">b</text>
<path d="M618.9,53 L619.8,54.5 C619.9,57 619.9,59.3 620,61.7 C620.9,65 622,68.2 623.4,71.2 C624.9,72.8 626.8,74 628.9,75 L635.6,78.4 C637.2,79.6 638.3,81.1 639,82.8 C639.2,84.3 638.9,85.8 638.4,87.3 L635.6,92.9 L632.3,99 C630.7,100.9 628.8,102.3 626.7,103.4 C624.7,104.3 622.6,104.9 620.6,105.1 C619.2,104.9 617.9,104.3 616.7,103.4 C614.8,101.6 613.1,99.6 611.7,97.3 C610.3,94.8 609.3,92.2 608.7,89.5 C608.2,87.3 608,85 608,82.8 C608.4,79.8 609.1,76.8 610,73.9 L613.9,63.9 L617.3,55 Z" fill="#000" transform="translate(-523,177.5)"/>
<path d="M217.4,14.8 C218.5,17 219.3,20 219.4,22.5 C219.6,24.5 219.6,26.5 219.4,28.6 C219.2,31 218.7,33 217.9,34.8 C216.8,37 215.5,39 213.8,41 C212,43 210,45 207.6,47.1 L202,52.3 C200.5,53.5 199.5,54.3 198.4,54.8 C197.5,54.3 196.8,53.6 196.3,52.8 L195.4,50.6 L193.3,49.4 L192.1,47.3 L192.7,45.6 L190.3,42.3 C192,42 194,41.7 196.3,41.5 C198.5,41.4 201,41.2 203.5,40.5 C205.8,39.8 207.8,38.8 209.7,37.4 C211.8,35.8 213.5,33.7 214.8,31.2 C215.9,28.8 216.4,26 216.6,23 C216.8,21 217,19 217.1,17.3 Z" fill="#000" transform="translate(-139,413.7)"/>
<path d="M110.3,30 C111.5,33 113,38 112.8,43 C112.9,47 112,52 110.7,56 C109.8,58.5 108.7,60.5 107.7,61.5 L103.4,61.5 C101.5,60.5 100,59 98.5,56.5 C97.5,54 96.8,51 97,49.5 C97.5,48.7 98.2,48.8 98.7,49.1 C100,50 101.3,52 102.6,52.4 C103.8,51.8 104.8,50.5 105.5,49.1 C106.8,47 107.6,45 107.9,43.1 C108.4,40 108.4,37 108.5,35.4 C108.6,33 108.8,31.5 109.3,30.5 Z" fill="#000" transform="translate(27,455.1)"/>
</g>
<g id="boxlegend">
<rect x="419.5" y="164.8" width="199" height="70.4" fill="#fff" stroke="#000" stroke-width="1.2"/>
<path d="M495.3,173.2H510.6M502.8,173.2V184.4M502.8,209V217M495.3,217H510.6" stroke="#4d4d4d" stroke-width="0.8" fill="none"/>
<rect x="489.4" y="184.4" width="27.3" height="24.6" fill="#ececec" stroke="#4d4d4d" stroke-width="0.8"/>
<line x1="489.4" y1="195" x2="516.7" y2="195" stroke="#4d4d4d" stroke-width="0.9"/>
<path d="M500.1,198.6L505.5,203.8M500.1,203.8L505.5,198.6" stroke="#333" stroke-width="0.8" fill="none"/>
<path d="M516.7,184.4H520.5V209H516.7M520.5,196.6H523" stroke="#4d4d4d" stroke-width="0.8" fill="none"/>
<circle cx="503.1" cy="227.7" r="2.3" fill="#a0a0a0" fill-opacity="0.7" stroke="#555" stroke-width="0.9"/>
<circle cx="503.1" cy="230.9" r="2.3" fill="#a0a0a0" fill-opacity="0.7" stroke="#555" stroke-width="0.9"/>
<text class="lg" x="421.7" y="175.9">Max (Q3 + 1.5IQR)</text>
<text class="lg" x="421.7" y="196.9">Median</text>
<text class="lg" x="421.7" y="204.3">Mean</text>
<text class="lg" x="421.7" y="219.1">Min (Q1 - 1.5IQR)</text>
<text class="lg" x="421.7" y="231.5">Outliers</text>
<text class="lg" x="525" y="186.9">3<tspan font-size="4.8" dy="-3">rd</tspan><tspan dy="3"> quartile (Q3)</tspan></text>
<text class="lg" x="525.6" y="199.4">Interquartile range (IQR)</text>
<text class="lg" x="525" y="212.1">1<tspan font-size="4.8" dy="-3">st</tspan><tspan dy="3"> quartile (Q1)</tspan></text>
<text class="lg" x="613" y="231.6" text-anchor="end">n = 45</text>
</g>
<g id="legend">
<path d="M11.5,570.7L17.3,576.5M11.5,576.5L17.3,570.7" stroke="#a5682a" stroke-width="1.1" fill="none"/>
<text class="sl" x="30.2" y="577.8">Pro. muelleri</text>
<circle cx="122.6" cy="573.6" r="2.7" fill="#a9cfc7"/>
<text class="sl" x="138.3" y="577.8">B.<tspan font-style="normal"> cf. </tspan>aculeatus</text>
<path d="M240.1,571.0L242.7,573.6L240.1,576.2L237.5,573.6Z" fill="#e0d3a2"/>
<text class="sl" x="256.2" y="577.8">T. gracilis</text>
<rect x="329.9" y="571.0" width="5.2" height="5.2" fill="#c4a064"/>
<text class="sl" x="348.6" y="577.8">Pan. equicostatus</text>
<path d="M465.1,570.0L468.6,576.0L461.6,576.0Z" fill="#27849f"/>
<text class="sl" x="481.9" y="577.8">W. excavata</text>
<path d="M579.9,577.1L584.2,569.6L575.6,569.6Z" fill="#c6d2bf"/>
<text class="sl" x="596" y="577.8">Palmatolepis<tspan font-style="normal"> sp.</tspan></text>
</g>
</svg></body></html>
